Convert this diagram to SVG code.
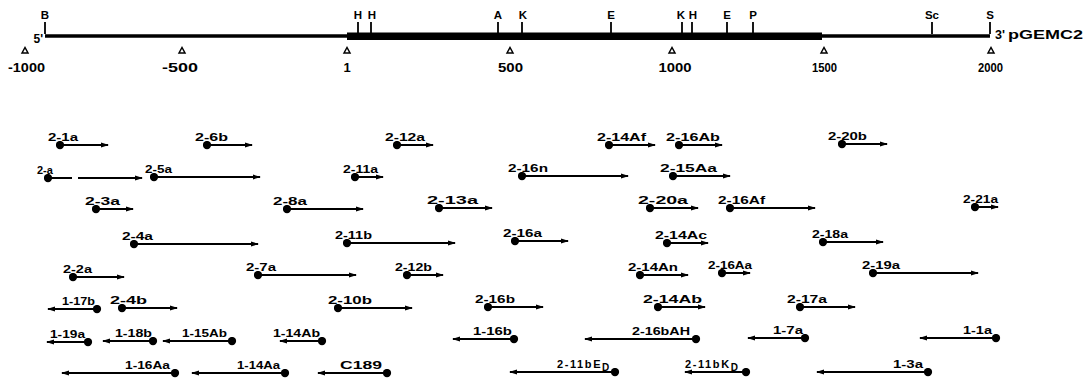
<svg xmlns="http://www.w3.org/2000/svg" width="1086" height="379" viewBox="0 0 1086 379">
<style>
text{font-family:"Liberation Sans",Arial,sans-serif;font-weight:bold;fill:#000}
.lb{font-size:11px}
.ml{font-size:11.5px;text-anchor:middle}
.sl{font-size:13px;text-anchor:middle}
.cl{fill:none;stroke:#000;stroke-width:2;marker-start:url(#dot);marker-end:url(#ah)}
.tk{stroke:#000;stroke-width:1.8}
.tri{fill:#fff;stroke:#000;stroke-width:1.5}
</style>
<defs>
<marker id="ah" viewBox="0 0 8 6" refX="7" refY="3" markerWidth="8" markerHeight="6" markerUnits="userSpaceOnUse" orient="auto"><path d="M0,0.6 L8,3 L0,5.4 Z"/></marker>
<marker id="dot" viewBox="0 0 10 10" refX="5" refY="5" markerWidth="9" markerHeight="9" markerUnits="userSpaceOnUse"><circle cx="5" cy="5" r="4.6"/></marker>
</defs>
<rect width="1086" height="379" fill="#fff"/>

<g id="map">
<line x1="45" y1="36" x2="990" y2="36" stroke="#000" stroke-width="3.5"/>
<rect x="347" y="32.5" width="475" height="7.5" fill="#000"/>
<line class="tk" x1="45" y1="22" x2="45" y2="34"/>
<line class="tk" x1="358" y1="22" x2="358" y2="34"/>
<line class="tk" x1="371" y1="22" x2="371" y2="34"/>
<line class="tk" x1="498" y1="22" x2="498" y2="34"/>
<line class="tk" x1="522" y1="22" x2="522" y2="34"/>
<line class="tk" x1="611" y1="22" x2="611" y2="34"/>
<line class="tk" x1="682" y1="22" x2="682" y2="34"/>
<line class="tk" x1="692" y1="22" x2="692" y2="34"/>
<line class="tk" x1="727" y1="22" x2="727" y2="34"/>
<line class="tk" x1="753" y1="22" x2="753" y2="34"/>
<line class="tk" x1="932" y1="22" x2="932" y2="34"/>
<line class="tk" x1="990" y1="22" x2="990" y2="34"/>
<text class="ml" x="45" y="19">B</text>
<text class="ml" x="358" y="19">H</text>
<text class="ml" x="372" y="19">H</text>
<text class="ml" x="498" y="19">A</text>
<text class="ml" x="523" y="19">K</text>
<text class="ml" x="611" y="19">E</text>
<text class="ml" x="681" y="19">K</text>
<text class="ml" x="693" y="19">H</text>
<text class="ml" x="727" y="19">E</text>
<text class="ml" x="753" y="19">P</text>
<text class="ml" x="932" y="19">Sc</text>
<text class="ml" x="990" y="19">S</text>
<text x="43" y="43" style="font-size:12px;text-anchor:end">5'</text>
<text x="995" y="39" style="font-size:12.5px">3'</text>
<text x="1008" y="39" style="font-size:12.5px" textLength="75" lengthAdjust="spacingAndGlyphs">pGEMC2</text>
<path class="tri" d="M22,53 L25,47.5 L28,53 Z"/>
<path class="tri" d="M179,53 L182,47.5 L185,53 Z"/>
<path class="tri" d="M344,53 L347,47.5 L350,53 Z"/>
<path class="tri" d="M507,53 L510,47.5 L513,53 Z"/>
<path class="tri" d="M669,53 L672,47.5 L675,53 Z"/>
<path class="tri" d="M821,53 L824,47.5 L827,53 Z"/>
<path class="tri" d="M988,53 L991,47.5 L994,53 Z"/>
<text class="sl" x="26.5" y="72" textLength="37" lengthAdjust="spacingAndGlyphs">-1000</text>
<text class="sl" x="180" y="72" textLength="36" lengthAdjust="spacingAndGlyphs">-500</text>
<text class="sl" x="347" y="72">1</text>
<text class="sl" x="510.5" y="72" textLength="25" lengthAdjust="spacingAndGlyphs">500</text>
<text class="sl" x="675" y="72" textLength="33" lengthAdjust="spacingAndGlyphs">1000</text>
<text class="sl" x="824.5" y="72" textLength="25" lengthAdjust="spacingAndGlyphs">1500</text>
<text class="sl" x="990.5" y="72" textLength="25" lengthAdjust="spacingAndGlyphs">2000</text>
</g>

<g id="connectors">
<path class="cl" d="M60,145 H108"/>
<path class="cl" d="M207,145 H252"/>
<path class="cl" d="M397,145 H433"/>
<path class="cl" d="M609,145 H655"/>
<path class="cl" d="M679,145 H722"/>
<path class="cl" d="M842,144 H887"/>
<path class="cl" d="M48,178 H72 M78,178 H142"/>
<path class="cl" d="M154,177 H260"/>
<path class="cl" d="M355,177 H383"/>
<path class="cl" d="M522,176 H628"/>
<path class="cl" d="M673,176 H730"/>
<path class="cl" d="M96,209 H133"/>
<path class="cl" d="M287,209 H363"/>
<path class="cl" d="M439,208 H492"/>
<path class="cl" d="M650,208 H698"/>
<path class="cl" d="M730,208 H815"/>
<path class="cl" d="M975,207 H998"/>
<path class="cl" d="M134,244 H258"/>
<path class="cl" d="M347,243 H455"/>
<path class="cl" d="M515,241 H568"/>
<path class="cl" d="M667,243 H708"/>
<path class="cl" d="M823,242 H883"/>
<path class="cl" d="M73,277 H124"/>
<path class="cl" d="M258,275 H356"/>
<path class="cl" d="M407,275 H443"/>
<path class="cl" d="M640,275 H688"/>
<path class="cl" d="M722,273 H750"/>
<path class="cl" d="M873,273 H978"/>
<path class="cl" d="M122,308 H177"/>
<path class="cl" d="M338,308 H412"/>
<path class="cl" d="M488,307 H543"/>
<path class="cl" d="M658,307 H705"/>
<path class="cl" d="M800,307 H855"/>
<path class="cl" d="M97,309 H48"/>
<path class="cl" d="M88,342 H47"/>
<path class="cl" d="M153,341 H103"/>
<path class="cl" d="M232,341 H163"/>
<path class="cl" d="M322,341 H280"/>
<path class="cl" d="M514,339 H453"/>
<path class="cl" d="M696,339 H585"/>
<path class="cl" d="M805,338 H748"/>
<path class="cl" d="M996,338 H920"/>
<path class="cl" d="M175,373 H62"/>
<path class="cl" d="M285,373 H192"/>
<path class="cl" d="M387,373 H318"/>
<path class="cl" d="M615,372 H510"/>
<path class="cl" d="M746,372 H685"/>
<path class="cl" d="M928,372 H817"/>
</g>

<g id="labels">
<g id="c-2-1a"><text class="lb" x="48" y="141" textLength="30" lengthAdjust="spacingAndGlyphs">2-1a</text></g>
<g id="c-2-6b"><text class="lb" x="195" y="141" textLength="33" lengthAdjust="spacingAndGlyphs">2-6b</text></g>
<g id="c-2-12a"><text class="lb" x="385" y="141" textLength="40" lengthAdjust="spacingAndGlyphs">2-12a</text></g>
<g id="c-2-14Af"><text class="lb" x="597" y="141" textLength="49" lengthAdjust="spacingAndGlyphs">2-14Af</text></g>
<g id="c-2-16Ab"><text class="lb" x="666" y="141" textLength="54" lengthAdjust="spacingAndGlyphs">2-16Ab</text></g>
<g id="c-2-20b"><text class="lb" x="828" y="140" textLength="39" lengthAdjust="spacingAndGlyphs">2-20b</text></g>
<g id="c-2-a"><text class="lb" x="37" y="174">2-a</text></g>
<g id="c-2-5a"><text class="lb" x="145" y="173" textLength="27" lengthAdjust="spacingAndGlyphs">2-5a</text></g>
<g id="c-2-11a"><text class="lb" x="343" y="173" textLength="35" lengthAdjust="spacingAndGlyphs">2-11a</text></g>
<g id="c-2-16n"><text class="lb" x="508" y="172" textLength="40" lengthAdjust="spacingAndGlyphs">2-16n</text></g>
<g id="c-2-15Aa"><text class="lb" x="660" y="172" textLength="57" lengthAdjust="spacingAndGlyphs">2-15Aa</text></g>
<g id="c-2-3a"><text class="lb" x="85" y="205" textLength="35" lengthAdjust="spacingAndGlyphs">2-3a</text></g>
<g id="c-2-8a"><text class="lb" x="273" y="205" textLength="34" lengthAdjust="spacingAndGlyphs">2-8a</text></g>
<g id="c-2-13a"><text class="lb" x="427" y="204" textLength="51" lengthAdjust="spacingAndGlyphs">2-13a</text></g>
<g id="c-2-20a"><text class="lb" x="638" y="204" textLength="50" lengthAdjust="spacingAndGlyphs">2-20a</text></g>
<g id="c-2-16Af"><text class="lb" x="718" y="204" textLength="47" lengthAdjust="spacingAndGlyphs">2-16Af</text></g>
<g id="c-2-21a"><text class="lb" x="963" y="203" textLength="35" lengthAdjust="spacingAndGlyphs">2-21a</text></g>
<g id="c-2-4a"><text class="lb" x="122" y="240" textLength="31" lengthAdjust="spacingAndGlyphs">2-4a</text></g>
<g id="c-2-11b"><text class="lb" x="335" y="239" textLength="37" lengthAdjust="spacingAndGlyphs">2-11b</text></g>
<g id="c-2-16a"><text class="lb" x="503" y="237" textLength="39" lengthAdjust="spacingAndGlyphs">2-16a</text></g>
<g id="c-2-14Ac"><text class="lb" x="655" y="239" textLength="52" lengthAdjust="spacingAndGlyphs">2-14Ac</text></g>
<g id="c-2-18a"><text class="lb" x="812" y="238" textLength="36" lengthAdjust="spacingAndGlyphs">2-18a</text></g>
<g id="c-2-2a"><text class="lb" x="63" y="273" textLength="29" lengthAdjust="spacingAndGlyphs">2-2a</text></g>
<g id="c-2-7a"><text class="lb" x="246" y="271" textLength="30" lengthAdjust="spacingAndGlyphs">2-7a</text></g>
<g id="c-2-12b"><text class="lb" x="395" y="271" textLength="37" lengthAdjust="spacingAndGlyphs">2-12b</text></g>
<g id="c-2-14An"><text class="lb" x="628" y="271" textLength="50" lengthAdjust="spacingAndGlyphs">2-14An</text></g>
<g id="c-2-16Aa"><text class="lb" x="708" y="269" textLength="44" lengthAdjust="spacingAndGlyphs">2-16Aa</text></g>
<g id="c-2-19a"><text class="lb" x="862" y="269" textLength="38" lengthAdjust="spacingAndGlyphs">2-19a</text></g>
<g id="c-2-4b"><text class="lb" x="110" y="304" textLength="37" lengthAdjust="spacingAndGlyphs">2-4b</text></g>
<g id="c-2-10b"><text class="lb" x="328" y="304" textLength="44" lengthAdjust="spacingAndGlyphs">2-10b</text></g>
<g id="c-2-16b"><text class="lb" x="475" y="303" textLength="40" lengthAdjust="spacingAndGlyphs">2-16b</text></g>
<g id="c-2-14Ab"><text class="lb" x="643" y="303" textLength="59" lengthAdjust="spacingAndGlyphs">2-14Ab</text></g>
<g id="c-2-17a"><text class="lb" x="787" y="303" textLength="40" lengthAdjust="spacingAndGlyphs">2-17a</text></g>
<g id="c-1-17b"><text class="lb" x="62" y="305" textLength="33" lengthAdjust="spacingAndGlyphs">1-17b</text></g>
<g id="c-1-19a"><text class="lb" x="50" y="338" textLength="35" lengthAdjust="spacingAndGlyphs">1-19a</text></g>
<g id="c-1-18b"><text class="lb" x="115" y="337" textLength="37" lengthAdjust="spacingAndGlyphs">1-18b</text></g>
<g id="c-1-15Ab"><text class="lb" x="182" y="337" textLength="45" lengthAdjust="spacingAndGlyphs">1-15Ab</text></g>
<g id="c-1-14Ab"><text class="lb" x="273" y="337" textLength="47" lengthAdjust="spacingAndGlyphs">1-14Ab</text></g>
<g id="c-1-16b"><text class="lb" x="473" y="335" textLength="39" lengthAdjust="spacingAndGlyphs">1-16b</text></g>
<g id="c-2-16bAH"><text class="lb" x="632" y="335" textLength="58" lengthAdjust="spacingAndGlyphs">2-16bAH</text></g>
<g id="c-1-7a"><text class="lb" x="773" y="334" textLength="30" lengthAdjust="spacingAndGlyphs">1-7a</text></g>
<g id="c-1-1a"><text class="lb" x="963" y="334" textLength="29" lengthAdjust="spacingAndGlyphs">1-1a</text></g>
<g id="c-1-16Aa"><text class="lb" x="125" y="369" textLength="45" lengthAdjust="spacingAndGlyphs">1-16Aa</text></g>
<g id="c-1-14Aa"><text class="lb" x="237" y="369" textLength="43" lengthAdjust="spacingAndGlyphs">1-14Aa</text></g>
<g id="c-C189"><text class="lb" x="340" y="369" textLength="42" lengthAdjust="spacingAndGlyphs">C189</text></g>
<g id="c-2-11bED"><text class="lb" x="557" y="368" letter-spacing="1.6">2-11bE<tspan dy="2.5" style="font-size:10px">D</tspan></text></g>
<g id="c-2-11bKD"><text class="lb" x="685" y="368" letter-spacing="1.6">2-11bK<tspan dy="2.5" style="font-size:10px">D</tspan></text></g>
<g id="c-1-3a"><text class="lb" x="893" y="368" textLength="30" lengthAdjust="spacingAndGlyphs">1-3a</text></g>
</g>
</svg>
